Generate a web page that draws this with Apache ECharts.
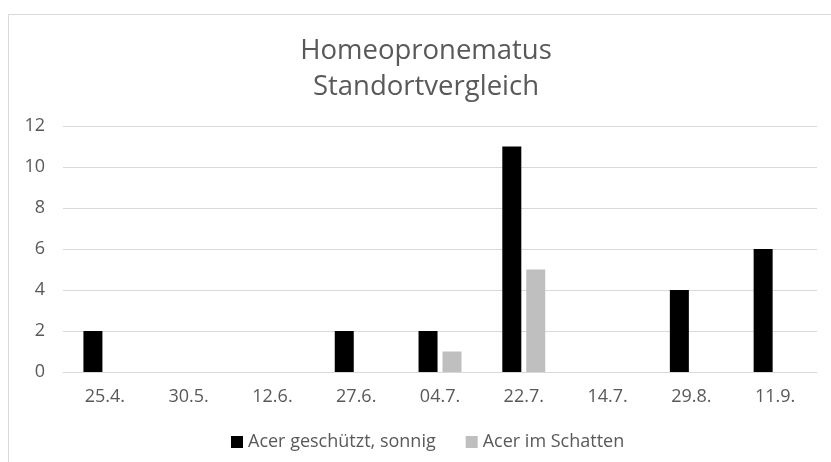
<!DOCTYPE html>
<html>
<head>
<meta charset="utf-8">
<script src="https://cdn.jsdelivr.net/npm/echarts@6/dist/echarts.min.js"></script>
<style>html,body{margin:0;padding:0;background:#fff}#c{width:831px;height:462px}</style>
</head>
<body>
<div id="c"></div>
<script>
var categories = ['25.4.', '30.5.', '12.6.', '27.6.', '04.7.', '22.7.', '14.7.', '29.8.', '11.9.'];
var seriesNames = ['Acer geschützt, sonnig', 'Acer im Schatten'];
var sonnig = [2, 0, 0, 2, 2, 11, 0, 4, 6];
var schatten = [0, 0, 0, 0, 1, 5, 0, 0, 0];
var yTicks = [0, 2, 4, 6, 8, 10, 12];

var chart = echarts.init(document.getElementById('c'));
var font = '"Open Sans", sans-serif';
chart.setOption({
  animation: false,
  backgroundColor: '#fff',
  graphic: [{
    type: 'rect', left: 6, top: 12,
    shape: { width: 840, height: 470 },
    style: { fill: 'none', stroke: '#d9d9d9', lineWidth: 1 }
  }],
  title: {
    text: 'Homeopronematus\nStandortvergleich',
    left: 421, top: 28,
    textAlign: 'center',
    textStyle: { fontFamily: font, fontSize: 27.5, fontWeight: 'normal', color: '#595959', lineHeight: 36 }
  },
  legend: {
    left: 226, top: 428,
    itemWidth: 12, itemHeight: 12, itemGap: 30,
    icon: 'rect',
    textStyle: { fontFamily: font, fontSize: 18, color: '#595959' },
    data: seriesNames
  },
  grid: { left: 63, right: 14, top: 126, bottom: 90, containLabel: false },
  xAxis: {
    type: 'category', data: categories,
    axisLine: { lineStyle: { color: '#d9d9d9', width: 1 } },
    axisTick: { show: false },
    axisLabel: { fontFamily: font, fontSize: 18, color: '#595959', margin: 16 }
  },
  yAxis: {
    type: 'value', min: yTicks[0], max: yTicks[yTicks.length - 1], interval: 2,
    axisLine: { show: false }, axisTick: { show: false },
    splitLine: { lineStyle: { color: '#d9d9d9', width: 1 } },
    axisLabel: { fontFamily: font, fontSize: 18, color: '#595959', margin: 18 }
  },
  series: [
    { name: seriesNames[0], type: 'bar', data: sonnig, barWidth: 19, barGap: '26%', itemStyle: { color: '#000000' } },
    { name: seriesNames[1], type: 'bar', data: schatten, barWidth: 19, barGap: '26%', itemStyle: { color: '#bfbfbf' } }
  ]
});
</script>
</body>
</html>
